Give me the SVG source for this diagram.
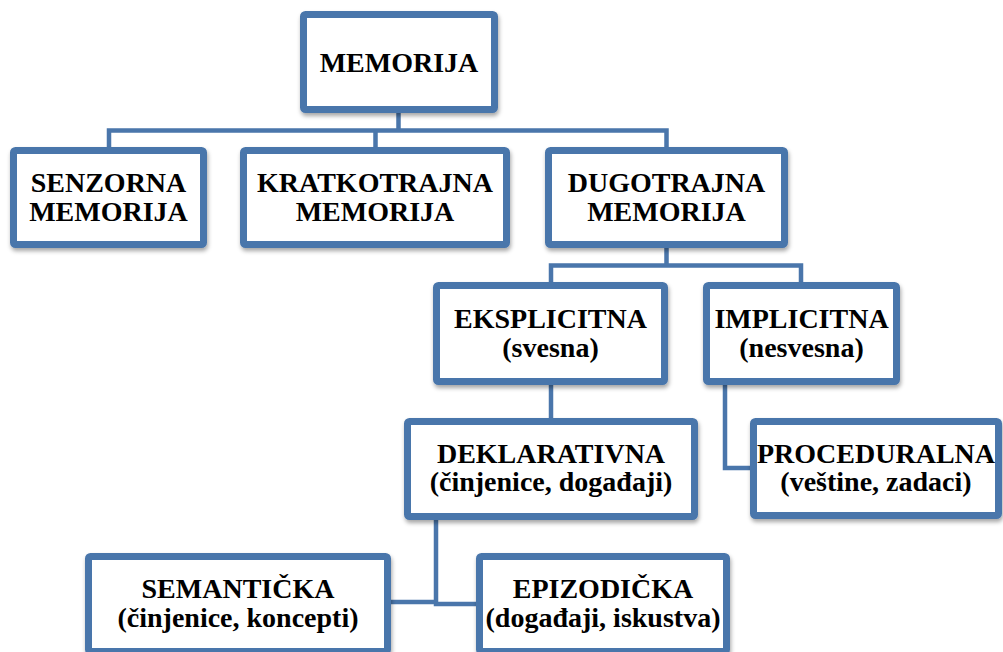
<svg xmlns="http://www.w3.org/2000/svg" width="1003" height="652" viewBox="0 0 1003 652">
<defs>
<filter id="sh" x="-10%" y="-10%" width="125%" height="130%">
<feDropShadow dx="1" dy="3" stdDeviation="2" flood-color="#000" flood-opacity="0.35"/>
</filter>
<style>
.box{fill:#fff;stroke:#4a76ab;stroke-width:7;filter:url(#sh)}
.ln{fill:none;stroke:#4a76ab;stroke-width:4.5;stroke-linejoin:miter}
.t{font-family:'Liberation Serif','DejaVu Serif',serif;font-weight:700;font-size:28px;fill:#000;text-anchor:middle}
</style>
</defs>
<rect width="1003" height="652" fill="#fff"/>
<g id="connectors">
<path class="ln" d="M398.5 113 V130.5 M109 148 V130.5 H666.5 V148 M375.5 130.5 V148"/>
<path class="ln" d="M666.5 248 V265.5 M551 283 V265.5 H801 V283"/>
<path class="ln" d="M551 385 V419"/>
<path class="ln" d="M725 385 V468 H751"/>
<path class="ln" d="M436 520 V604 H477 M436 602 H390"/>
</g>
<g id="memorija">
<rect class="box" x="303.5" y="14.5" width="191" height="95" rx="2"/>
<text class="t" x="399" y="72" font-family="Liberation Serif, serif">MEMORIJA</text>
</g>
<g id="senzorna">
<rect class="box" x="13.5" y="150.5" width="190" height="94" rx="2"/>
<text class="t" x="108.5" y="192">SENZORNA</text>
<text class="t" x="108.5" y="221">MEMORIJA</text>
</g>
<g id="kratkotrajna">
<rect class="box" x="243.5" y="150.5" width="263" height="94" rx="2"/>
<text class="t" x="375" y="192">KRATKOTRAJNA</text>
<text class="t" x="375" y="221">MEMORIJA</text>
</g>
<g id="dugotrajna">
<rect class="box" x="548.5" y="150.5" width="236" height="94" rx="2"/>
<text class="t" x="666.5" y="192">DUGOTRAJNA</text>
<text class="t" x="666.5" y="221">MEMORIJA</text>
</g>
<g id="eksplicitna">
<rect class="box" x="436.5" y="285.5" width="228" height="96" rx="2"/>
<text class="t" x="550.5" y="328">EKSPLICITNA</text>
<text class="t" x="550.5" y="357">(svesna)</text>
</g>
<g id="implicitna">
<rect class="box" x="706.5" y="285.5" width="190" height="96" rx="2"/>
<text class="t" x="801.5" y="328">IMPLICITNA</text>
<text class="t" x="801.5" y="357">(nesvesna)</text>
</g>
<g id="deklarativna">
<rect class="box" x="407.5" y="421.5" width="287" height="95" rx="2"/>
<text class="t" x="551" y="463">DEKLARATIVNA</text>
<text class="t" x="551" y="491">(činjenice, događaji)</text>
</g>
<g id="proceduralna">
<rect class="box" x="753.5" y="421.5" width="245" height="94" rx="2"/>
<text class="t" x="876" y="463">PROCEDURALNA</text>
<text class="t" x="876" y="491">(veštine, zadaci)</text>
</g>
<g id="semanticka">
<rect class="box" x="88.5" y="556.5" width="299" height="95" rx="2"/>
<text class="t" x="238" y="598">SEMANTIČKA</text>
<text class="t" x="238" y="627">(činjenice, koncepti)</text>
</g>
<g id="epizodicka">
<rect class="box" x="479.5" y="556.5" width="247" height="95" rx="2"/>
<text class="t" x="603" y="598">EPIZODIČKA</text>
<text class="t" x="603" y="627">(događaji, iskustva)</text>
</g>
</svg>
